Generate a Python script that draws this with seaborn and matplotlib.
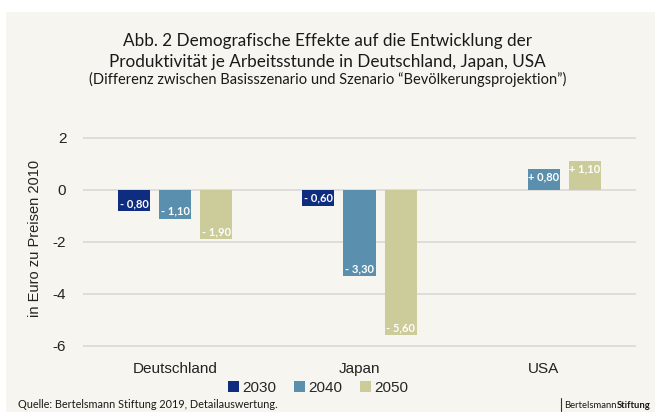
import numpy as np
import pandas as pd
import matplotlib
matplotlib.use("Agg")
import matplotlib.pyplot as plt
import seaborn as sns
from matplotlib.patches import Rectangle
from matplotlib.lines import Line2D

# Daten
laender = ["Deutschland", "Japan", "USA"]
jahre = ["2030", "2040", "2050"]
werte_2030 = [-0.80, -0.60, 0.0]
werte_2040 = [-1.10, -3.30, 0.80]
werte_2050 = [-1.90, -5.60, 1.10]
farben = ["#0F2D80", "#5A8FAD", "#CCCB9A"]

bg = "#F7F5EF"

df = pd.DataFrame({
    "Land": laender * 3,
    "Jahr": [j for j in jahre for _ in laender],
    "Wert": werte_2030 + werte_2040 + werte_2050,
})

sns.set_style("white")
plt.rcParams["font.family"] = ["Liberation Sans", "DejaVu Sans"]

fig = plt.figure(figsize=(6.55, 4.12), dpi=100)
fig.patch.set_facecolor("white")
fig.patches.append(Rectangle((6 / 655, 0), 1, 1 - 12 / 412, transform=fig.transFigure,
                             facecolor=bg, edgecolor="none", zorder=-10))

ax = fig.add_axes([83 / 655, 1 - 351 / 412, (636 - 83) / 655, 226 / 412])
ax.set_facecolor(bg)

sns.barplot(data=df, x="Land", y="Wert", hue="Jahr", palette=farben, width=0.67, gap=0.22,
            saturation=1, ax=ax, legend=False, zorder=3, linewidth=0)

ax.set_xlim(-0.5, 2.5)
ax.set_ylim(-6.2, 2.5)
ax.set_yticks([2, 0, -2, -4, -6])
ax.set_yticklabels(["2", "0", "-2", "-4", "-6"])
ax.grid(axis="y", color="#D9D9D9", linewidth=1.2, zorder=0)
for s in ax.spines.values():
    s.set_visible(False)
ax.tick_params(axis="both", length=0, labelsize=11, colors="#222222")
ax.tick_params(axis="y", pad=12)
ax.tick_params(axis="x", pad=8)
ax.set_xlabel("")
ax.set_ylabel("in Euro zu Preisen 2010", fontsize=10.5, color="#222222", labelpad=8)

# Beschriftungen
lf = ["Lato", "DejaVu Sans"]
for cont in ax.containers:
    for p in cont.patches:
        h = p.get_height()
        if h == 0:
            continue
        xc = p.get_x() + p.get_width() / 2
        txt = ("+ " if h > 0 else "- ") + f"{abs(h):.2f}".replace(".", ",")
        if h < 0:
            ax.text(xc, h + 0.07, txt, ha="center", va="bottom", color="white",
                    fontsize=8, fontweight="bold", family=lf, zorder=5)
        else:
            ax.text(xc, h - 0.07, txt, ha="center", va="top", color="white",
                    fontsize=8, fontweight="bold", family=lf, zorder=5)

# Legende
handles = [Rectangle((0, 0), 1, 1, facecolor=c, edgecolor="none") for c in farben]
fig.legend(handles, jahre, loc="center", bbox_to_anchor=(318 / 655, 1 - 388 / 412), ncol=3,
           frameon=False, fontsize=11, handlelength=0.7, handleheight=0.7, handletextpad=0.2,
           columnspacing=1.2)

# Titel
tf = ["Lato", "DejaVu Sans"]
fig.text(0.5, 1 - 41 / 412, "Abb. 2 Demografische Effekte auf die Entwicklung der",
         ha="center", va="center", fontsize=12.3, family=tf, color="#1a1a1a")
fig.text(0.5, 1 - 62 / 412, "Produktivität je Arbeitsstunde in Deutschland, Japan, USA",
         ha="center", va="center", fontsize=12.3, family=tf, color="#1a1a1a")
fig.text(0.5, 1 - 79 / 412, "(Differenz zwischen Basisszenario und Szenario \u201cBevölkerungsprojektion\u201d)",
         ha="center", va="center", fontsize=10.5, family=tf, color="#1a1a1a")

# Fußzeile
fig.text(18 / 655, 1 - 405 / 412, "Quelle: Bertelsmann Stiftung 2019, Detailauswertung.",
         ha="left", va="center", fontsize=7.8, family=tf, color="#1a1a1a")
fig.add_artist(Line2D([561 / 655, 561 / 655], [1 - 398 / 412, 1 - 411 / 412],
                      transform=fig.transFigure, color="#333333", linewidth=0.8))
t1 = fig.text(564 / 655, 1 - 405 / 412, "Bertelsmann", ha="left", va="center", fontsize=6.8,
              family=tf, color="#1a1a1a")
fig.canvas.draw()
bb = t1.get_window_extent()
fig.text(bb.x1 / fig.bbox.width + 0.5 / 655, 1 - 405 / 412, "Stiftung", ha="left", va="center",
         fontsize=6.8, family=tf, color="#1a1a1a", fontweight="bold")

fig.savefig("out.png", dpi=100, facecolor=fig.get_facecolor())
